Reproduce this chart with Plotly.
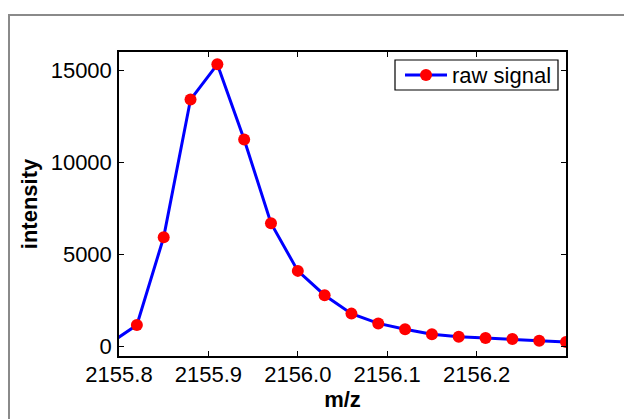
import plotly.graph_objects as go

# m/z samples of the peak (the first sample lies just left of the visible window)
mz = [2155.79, 2155.82, 2155.85, 2155.88, 2155.91, 2155.94, 2155.97, 2156.00,
      2156.03, 2156.06, 2156.09, 2156.12, 2156.15, 2156.18, 2156.21, 2156.24,
      2156.27, 2156.30]
intensity = [200, 1180, 5950, 13420, 15330, 11250, 6710, 4120,
             2800, 1800, 1270, 950, 680, 545, 475, 420,
             330, 255]
series_name = "raw signal"

x_ticks = [2155.8, 2155.9, 2156.0, 2156.1, 2156.2]
x_tick_text = ["2155.8", "2155.9", "2156.0", "2156.1", "2156.2"]
y_ticks = [0, 5000, 10000, 15000]
y_tick_text = ["0", "5000", "10000", "15000"]

W, H = 624, 419
L, R, T, B = 119, 58, 52, 63
pw, ph = W - L - R, H - T - B

LINE_COLOR = "#0000ff"
MARKER_COLOR = "#ff0000"
font = dict(family="Liberation Sans, Arial, sans-serif", size=22, color="black")


def px_x(px):
    """Figure pixel column -> paper x."""
    return (px - L) / pw


def px_y(py):
    """Figure pixel row -> paper y."""
    return (H - B - py) / ph


fig = go.Figure()
fig.add_trace(go.Scatter(
    x=mz, y=intensity, mode="lines+markers", name=series_name,
    line=dict(color=LINE_COLOR, width=3),
    marker=dict(color=MARKER_COLOR, size=12, line=dict(width=0)),
    cliponaxis=True, showlegend=False,
))

axis_common = dict(
    showgrid=False, zeroline=False, showline=True, linecolor="black",
    linewidth=1.5, mirror="ticks", ticks="inside", ticklen=5,
    tickcolor="black", tickwidth=1, tickfont=font,
)

fig.update_layout(
    width=W, height=H,
    margin=dict(l=L, r=R, t=T, b=B, autoexpand=False),
    paper_bgcolor="white", plot_bgcolor="white",
    font=font,
    showlegend=False,
    xaxis=dict(
        range=[2155.8, 2156.3], tickvals=x_ticks, ticktext=x_tick_text,
        title=dict(text="<b>m/z</b>", font=font, standoff=1),
        ticklabelstandoff=-2,
        **axis_common,
    ),
    yaxis=dict(
        range=[-500, 16000], tickvals=y_ticks, ticktext=y_tick_text,
        title=dict(text="<b>intensity</b>", font=font, standoff=7),
        ticklabelstandoff=1,
        **axis_common,
    ),
)

# outer gray frame around the figure panel
fig.add_shape(
    type="rect", xref="paper", yref="paper",
    x0=px_x(9), x1=px_x(W + 20),
    y0=px_y(H + 20), y1=px_y(15),
    line=dict(color="#8a8a8a", width=2), fillcolor="rgba(0,0,0,0)",
    layer="below",
)

# legend box in the upper-right corner: line sample, marker and label
fig.add_shape(
    type="rect", xref="paper", yref="paper",
    x0=px_x(395), x1=px_x(558), y0=px_y(90), y1=px_y(60),
    line=dict(color="black", width=1.2), fillcolor="white",
)
fig.add_shape(
    type="line", xref="paper", yref="paper",
    x0=px_x(405), x1=px_x(447), y0=px_y(75), y1=px_y(75),
    line=dict(color=LINE_COLOR, width=3),
)
fig.add_shape(
    type="circle", xref="paper", yref="paper",
    x0=px_x(420), x1=px_x(432), y0=px_y(81), y1=px_y(69),
    line=dict(width=0), fillcolor=MARKER_COLOR,
)
fig.add_annotation(
    text=series_name, xref="paper", yref="paper",
    x=px_x(451), y=px_y(75), xanchor="left", yanchor="middle",
    showarrow=False, font=font, borderpad=0,
)

fig.write_html("out.html")
